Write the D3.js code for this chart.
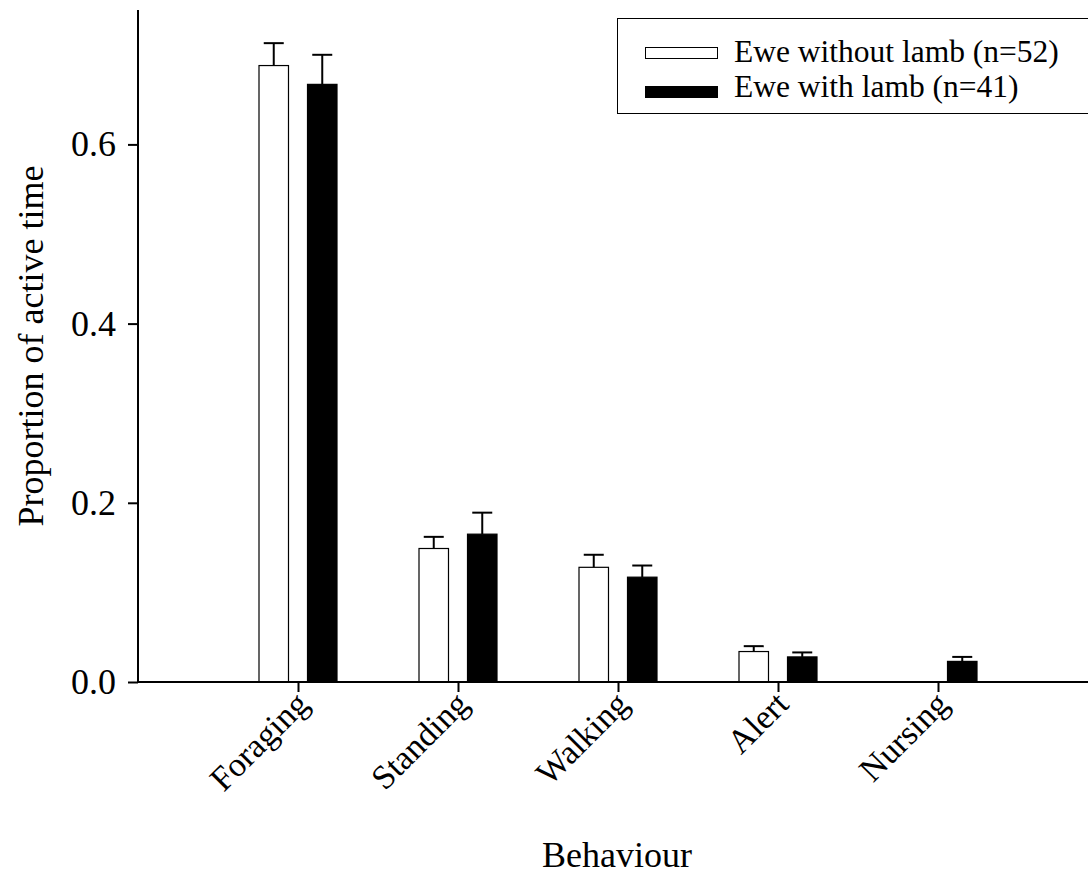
<!DOCTYPE html>
<html>
<head>
<meta charset="utf-8">
<script src="https://cdn.jsdelivr.net/npm/d3@7"></script>
<style>
  html, body { margin: 0; padding: 0; background: #fff; }
  svg { display: block; }
  svg text { font-family: "Liberation Serif", "Times New Roman", Times, "DejaVu Serif", serif; }
</style>
</head>
<body>
<svg id="chart" width="1088" height="876"></svg>
<script>
// Behaviour categories and series
const categories = ["Foraging", "Standing", "Walking", "Alert", "Nursing"];
const seriesNames = ["Ewe without lamb (n=52)", "Ewe with lamb (n=41)"];
const seriesFills = ["#ffffff", "#000000"];

// Mean proportion of active time per behaviour
const withoutLamb = [0.688, 0.149, 0.128, 0.034, 0];
const withLamb = [0.667, 0.165, 0.117, 0.028, 0.023];

// Upper error (standard error) for each mean
const withoutLambErr = [0.025, 0.013, 0.014, 0.006, 0];
const withLambErr = [0.033, 0.024, 0.013, 0.005, 0.005];

const yTicks = [0, 0.2, 0.4, 0.6];

const svg = d3.select("#chart");
const x0 = 138, yBase = 682, yTop = 10;

const x = d3.scaleLinear().domain([0, categories.length + 1]).range([x0, x0 + 160 * (categories.length + 1)]);
const y = d3.scaleLinear().domain([0, 0.75]).range([yBase, yTop]);
const inner = d3.scaleBand().domain([0, 1]).range([-39, 39]).paddingInner(0.392);

const data = [];
categories.forEach((c, i) => {
  data.push({ cat: i + 1, s: 0, v: withoutLamb[i], e: withoutLambErr[i] });
  data.push({ cat: i + 1, s: 1, v: withLamb[i], e: withLambErr[i] });
});
const shown = data.filter(d => d.v > 0);

// Error bars (upper only)
const eb = svg.append("g").attr("stroke", "#000").attr("stroke-width", 2);
shown.forEach(d => {
  const cx = x(d.cat) + inner(d.s) + inner.bandwidth() / 2;
  eb.append("line").attr("x1", cx).attr("x2", cx).attr("y1", y(d.v)).attr("y2", y(d.v + d.e));
  eb.append("line").attr("x1", cx - 10).attr("x2", cx + 10).attr("y1", y(d.v + d.e)).attr("y2", y(d.v + d.e));
});

// Bars
svg.append("g").selectAll("rect").data(shown).join("rect")
  .attr("x", d => x(d.cat) + inner(d.s))
  .attr("width", inner.bandwidth())
  .attr("y", d => y(d.v))
  .attr("height", d => y(0) - y(d.v))
  .attr("fill", d => seriesFills[d.s])
  .attr("stroke", "#000")
  .attr("stroke-width", 1.2);

// Y axis
const yAxis = d3.axisLeft(y).tickValues(yTicks).tickFormat(d3.format(".1f")).tickSize(10).tickPadding(12);
const gy = svg.append("g").attr("transform", `translate(${x0},0)`).call(yAxis).attr("font-family", null);
gy.select(".domain").attr("stroke-width", 2).attr("d", `M0,${yTop}V${yBase}`);
gy.selectAll(".tick line").attr("stroke-width", 2);
gy.selectAll(".tick text").attr("font-size", 36).attr("fill", "#000");

// X axis
const xAxis = d3.axisBottom(x).tickValues(categories.map((c, i) => i + 1)).tickFormat(d => categories[d - 1]).tickSize(10);
const gx = svg.append("g").attr("transform", `translate(0,${yBase})`).call(xAxis).attr("font-family", null);
gx.select(".domain").attr("stroke-width", 2).attr("d", `M${x0},0H1100`);
gx.selectAll(".tick line").attr("stroke-width", 2);
gx.selectAll(".tick text")
  .attr("font-size", 34).attr("fill", "#000")
  .attr("text-anchor", "end")
  .attr("dy", null)
  .attr("y", 0)
  .attr("transform", "translate(12,24) rotate(-45)");

// Axis titles
svg.append("text").attr("x", 617).attr("y", 867).attr("text-anchor", "middle")
  .attr("font-size", 36).text("Behaviour");
svg.append("text").attr("transform", `translate(43,${(165 + 527) / 2}) rotate(-90)`)
  .attr("text-anchor", "middle").attr("font-size", 36).text("Proportion of active time");

// Legend
const lg = svg.append("g");
lg.append("rect").attr("x", 617.5).attr("y", 18.5).attr("width", 480).attr("height", 95)
  .attr("fill", "#fff").attr("stroke", "#000").attr("stroke-width", 1);
seriesNames.forEach((n, i) => {
  const yy = 47 + i * 39;
  lg.append("rect").attr("x", 645.5).attr("y", yy + 0.5).attr("width", 72).attr("height", 11)
    .attr("fill", seriesFills[i]).attr("stroke", "#000").attr("stroke-width", 1);
  lg.append("text").attr("x", 734).attr("y", 62 + i * 35).attr("font-size", 31.5).text(n);
});
</script>
</body>
</html>
